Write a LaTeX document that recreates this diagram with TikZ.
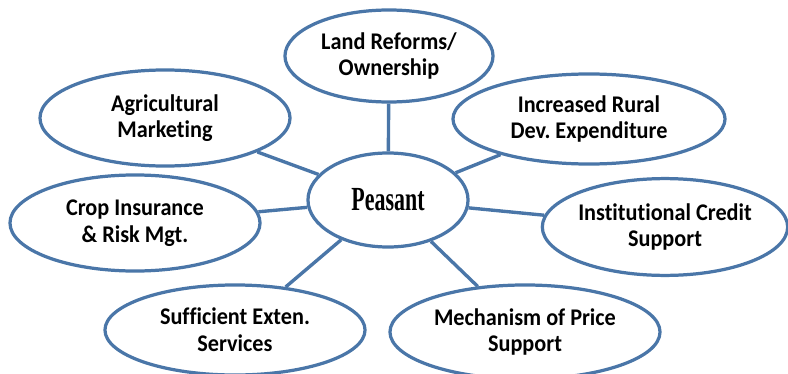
\documentclass[tikz,border=0pt]{standalone}
\usepackage{fontspec}
\setmainfont[Ligatures=NoCommon,FakeStretch=0.93]{Carlito}
\newfontfamily\peasantfont[FakeStretch=0.65]{Liberation Serif}
\usetikzlibrary{shapes}
\definecolor{rimblue}{RGB}{74,118,168}
\frenchspacing

\begin{document}
\begin{tikzpicture}[x=0.025cm,y=-0.025cm,
    every node/.style={ellipse,draw=rimblue,line width=2.3pt,fill=white,inner sep=0pt,
      align=center,font=\bfseries\fontsize{17}{19}\selectfont},
    link/.style={draw=rimblue,line width=2.4pt}
   ]
\useasboundingbox (0,0) rectangle (788,374);
\node[minimum width=4cm,minimum height=2.35cm,font=\peasantfont\bfseries\fontsize{24}{26}\selectfont] (peasant) at (388,200) {Peasant};
\node[minimum width=5.2cm,minimum height=2.3cm] (land) at (389,56) {Land Reforms/\\Ownership};
\node[minimum width=6.8cm,minimum height=2.25cm] (rural) at (589,119) {Increased Rural\\Dev. Expenditure};
\node[minimum width=6.1cm,minimum height=2.42cm] (credit) at (665,227) {Institutional Credit\\Support};
\node[minimum width=6.75cm,minimum height=2.35cm] (price) at (525,332) {Mechanism of Price\\Support};
\node[minimum width=6.5cm,minimum height=2.25cm] (extension) at (235,330) {Sufficient Exten.\\Services};
\node[minimum width=6.25cm,minimum height=2.4cm] (insurance) at (135,223) {Crop Insurance\\\& Risk Mgt.};
\node[minimum width=6.25cm,minimum height=2.4cm] (marketing) at (165,118) {Agricultural\\Marketing};
\foreach \n in {land,rural,credit,price,extension,insurance,marketing}
  \path[link] (peasant) -- (\n);
\end{tikzpicture}
\end{document}
